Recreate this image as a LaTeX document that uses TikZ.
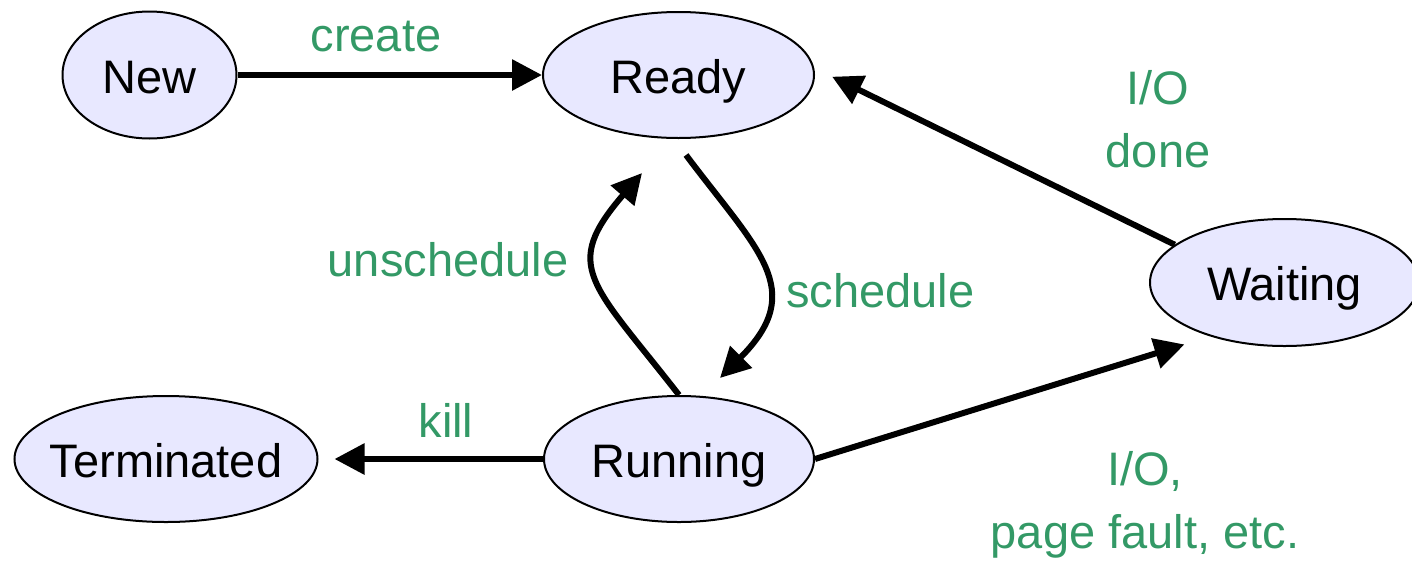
\documentclass[tikz,border=0pt]{standalone}
\usepackage{fontspec}
\setmainfont{Liberation Sans}
\usetikzlibrary{arrows.meta,shapes.geometric,calc}
\definecolor{lblgreen}{RGB}{51,153,102}
\definecolor{statefill}{RGB}{232,232,255}
\newcommand{\zw}[1]{\makebox[0pt]{#1}}
\begin{document}
\begin{tikzpicture}[x=1pt,y=-1pt,
  state/.style={ellipse, draw=black, line width=2pt, fill=statefill, inner sep=0pt,
    text height=36pt, text depth=0pt, font=\fontsize{47}{56}\selectfont},
  lbl/.style={text=lblgreen, font=\fontsize{47}{63}\selectfont, inner sep=0pt, anchor=base},
  arr/.style={line width=6pt, -{Triangle[length=30pt,width=30pt]}}]
\fill[white] (0,0) rectangle (1412,560);
\useasboundingbox (0,0) rectangle (1412,560);
% states
\node[state, minimum width=174pt, minimum height=127pt] (new) at (149.5,75) {\zw{New}};
\node[state, minimum width=271pt, minimum height=126pt] (ready) at (678.5,75) {\zw{Ready}};
\node[state, minimum width=270pt, minimum height=126pt] (running) at (679,459) {\zw{Running}};
\node[state, minimum width=303pt, minimum height=126pt] (term) at (166,459) {\zw{Terminated}};
\node[state, minimum width=269pt, minimum height=127pt] (waiting) at (1284.5,282.5) {\zw{Waiting}};
% transitions
\draw[arr] (new) -- (ready);
\draw[arr, shorten >=16pt] (running) -- (term);
\draw[arr, shorten >=20pt] (waiting.161) -- (ready.3);
\draw[arr, shorten >=27pt] (running.east) -- (waiting.216);
\draw[arr] ($(ready.south)+(7.5,16)$) .. controls (758,251) and (808,290) .. ($(running.center)+(41,-81)$);
\draw[arr] (running.north) .. controls (591,282) and (561,267) .. ($(ready.south)+(-36.5,34)$);
% labels
\node[lbl] (lcreate) at (376,51) {create};
\node[lbl] (lkill) at (446,437) {kill};
\node[lbl] (lunsch) at (448,276) {unschedule};
\node[lbl] (lsch) at (880.5,307) {schedule};
\node[lbl] (liodone) at (1158,167) {\begin{tabular}[b]{@{}c@{}}I/O\\done\end{tabular}};
\node[lbl] (lio) at (1145,548) {\begin{tabular}[b]{@{}c@{}}I/O,\\page fault, etc.\end{tabular}};
\end{tikzpicture}
\end{document}
